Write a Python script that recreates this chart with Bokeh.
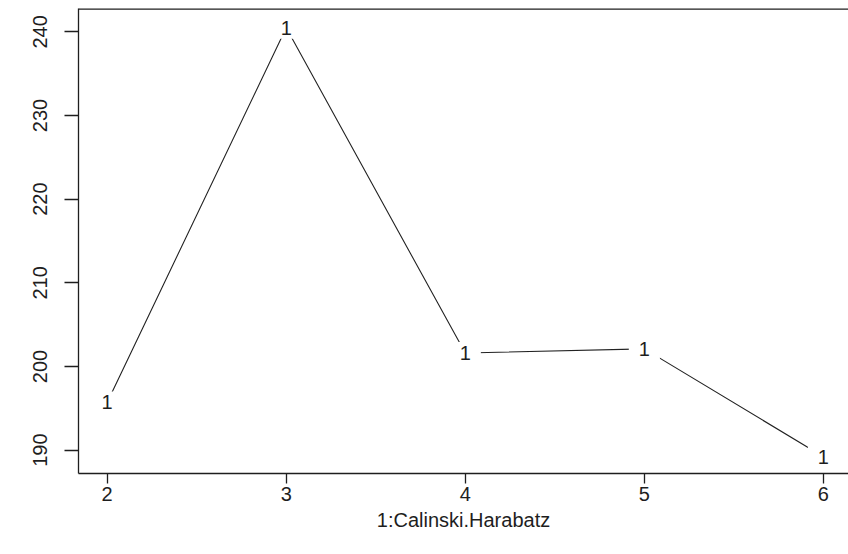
from bokeh.plotting import figure
from bokeh.models import Range1d, FixedTicker, ColumnDataSource, Span
from bokeh.core.properties import value
from bokeh.embed import file_html
from bokeh.resources import INLINE

# data
n_clusters = [2, 3, 4, 5, 6]
calinski = [195.7, 240.5, 201.6, 202.1, 189.2]
marker_labels = ["1", "1", "1", "1", "1"]
x_ticks = [2, 3, 4, 5, 6]
y_ticks = [190, 200, 210, 220, 230, 240]
x_title = "1:Calinski.Harabatz"

FONT = "Liberation Sans"
INK = "#1e1e1e"

src = ColumnDataSource(dict(x=n_clusters, y=calinski, t=marker_labels))

y_lo, y_hi = 187.2, 242.8

p = figure(width=848, height=538, output_backend="svg", toolbar_location=None,
           x_range=Range1d(1.84, 6.14),
           y_range=Range1d(y_lo, y_hi),
           min_border_left=78, min_border_right=0, min_border_top=8,
           min_border_bottom=65)
p.background_fill_color = "white"
p.border_fill_color = "white"
p.xgrid.visible = False
p.ygrid.visible = False
p.outline_line_color = None

p.xaxis.ticker = FixedTicker(ticks=x_ticks)
p.yaxis.ticker = FixedTicker(ticks=y_ticks)
for ax in (p.xaxis[0], p.yaxis[0]):
    ax.axis_line_color = INK
    ax.axis_line_width = 1.3
    ax.major_tick_line_color = INK
    ax.major_tick_line_width = 1.3
    ax.major_tick_in = 0
    ax.minor_tick_line_color = None
    ax.major_label_text_font = FONT
    ax.major_label_text_font_size = "20px"
    ax.major_label_text_color = INK

p.xaxis.major_tick_out = 10
p.xaxis.major_label_standoff = 3
p.yaxis.major_tick_out = 14
p.yaxis.major_label_standoff = 17
p.yaxis.major_label_orientation = "vertical"

p.xaxis.axis_label = x_title
p.xaxis.axis_label_text_font = FONT
p.xaxis.axis_label_text_font_size = "20px"
p.xaxis.axis_label_text_font_style = "normal"
p.xaxis.axis_label_text_color = INK
p.xaxis.axis_label_standoff = 5

# top side of the plot box (right side is cut off in the reference)
p.add_layout(Span(location=y_hi, dimension="width", line_color=INK, line_width=2.6))

p.line("x", "y", source=src, line_color="#222222", line_width=1.1)
p.text("x", "y", text="t", source=src, text_align="center", text_baseline="middle",
       text_font=value(FONT), text_font_size="20px", text_color=INK,
       background_fill_color="white",
       padding=dict(left=10, right=10, top=4, bottom=4))

open("out.html", "w").write(file_html(p, INLINE))
